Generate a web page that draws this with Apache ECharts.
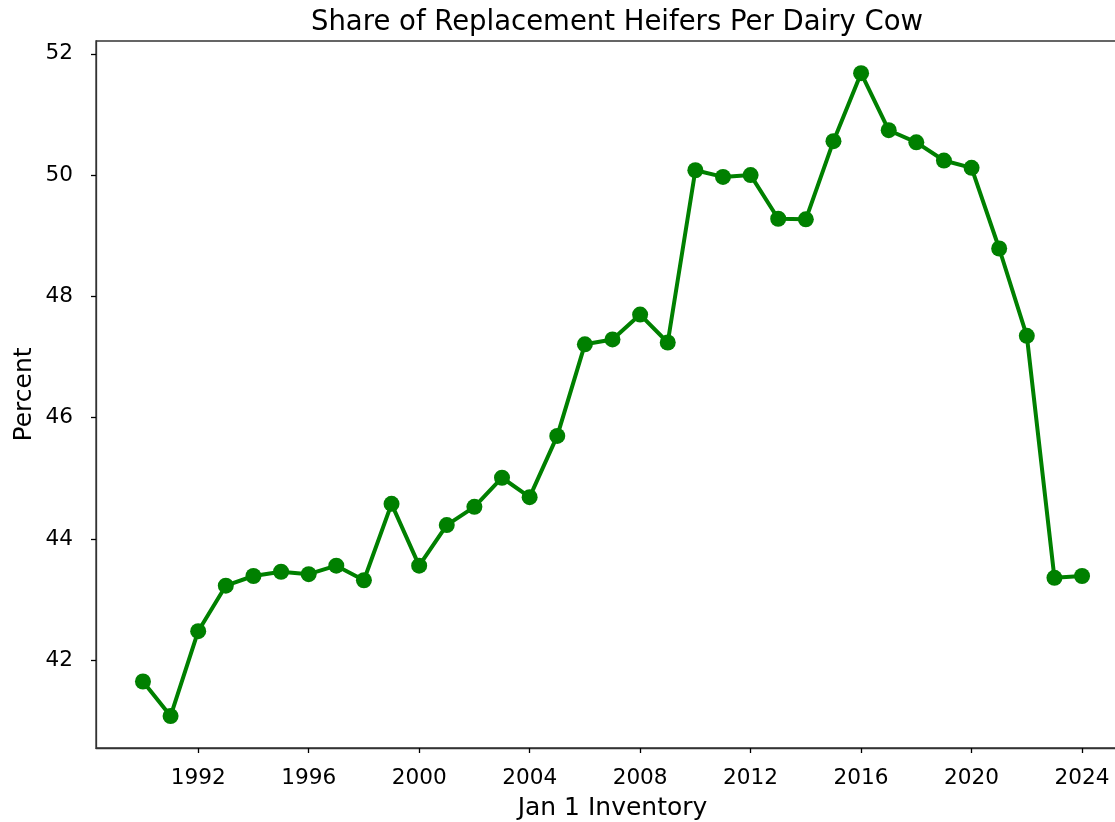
<!DOCTYPE html>
<html>
<head>
<meta charset="utf-8">
<script src="https://cdn.jsdelivr.net/npm/echarts@6/dist/echarts.min.js"></script>
<style>
  html, body { margin: 0; padding: 0; background: #fff; }
  #chart { width: 1115px; height: 822px; }
</style>
</head>
<body>
<div id="chart"></div>
<script>
// Jan 1 inventory years and heifer share (percent)
var years = [1990, 1991, 1992, 1993, 1994, 1995, 1996, 1997, 1998, 1999,
  2000, 2001, 2002, 2003, 2004, 2005, 2006, 2007, 2008, 2009,
  2010, 2011, 2012, 2013, 2014, 2015, 2016, 2017, 2018, 2019,
  2020, 2021, 2022, 2023, 2024];
var share = [41.65, 41.08, 42.48, 43.23, 43.39, 43.46, 43.42, 43.56, 43.32, 44.58,
  43.56, 44.23, 44.53, 45.01, 44.69, 45.70, 47.21, 47.29, 47.70, 47.24,
  50.08, 49.97, 50.00, 49.28, 49.27, 50.56, 51.68, 50.74, 50.54, 50.24,
  50.12, 48.79, 47.35, 43.36, 43.39];
var xTicks = [1992, 1996, 2000, 2004, 2008, 2012, 2016, 2020, 2024];
var yTicks = [42, 44, 46, 48, 50, 52];

var font = 'DejaVu Sans';
var points = years.map(function(y, i) { return [y, share[i]]; });

var myChart = echarts.init(document.getElementById('chart'));
var option = {
  animation: false,
  title: {
    text: 'Share of Replacement Heifers Per Dairy Cow',
    left: 612,
    top: 4,
    textAlign: 'center',
    textStyle: { fontFamily: font, fontSize: 27.5, fontWeight: 'normal', color: '#000' }
  },
  grid: {
    left: 96, top: 41, width: 1033, height: 707,
    outerBoundsMode: 'none',
    containLabel: false,
    show: true, borderColor: '#333', borderWidth: 1.3, backgroundColor: '#fff'
  },
  xAxis: {
    type: 'value',
    min: 1988.3,
    max: 2025.7,
    name: 'Jan 1 Inventory',
    nameLocation: 'middle',
    nameGap: 48,
    nameMoveOverlap: false,
    nameTextStyle: { fontFamily: font, fontSize: 25, color: '#000' },
    splitLine: { show: false },
    axisLine: { lineStyle: { color: '#333', width: 1.3 } },
    axisTick: { customValues: xTicks, length: 5, lineStyle: { color: '#000', width: 1.3 } },
    axisLabel: {
      customValues: xTicks, margin: 19, fontFamily: font, fontSize: 21.6, color: '#000',
      formatter: function(v) { return String(v); }
    }
  },
  yAxis: {
    type: 'value',
    min: 40.554,
    max: 52.211,
    name: 'Percent',
    nameLocation: 'middle',
    nameRotate: 90,
    nameGap: 59,
    nameMoveOverlap: false,
    nameTextStyle: { fontFamily: font, fontSize: 25, color: '#000' },
    splitLine: { show: false },
    axisLine: { show: true, lineStyle: { color: '#333', width: 1.3 } },
    axisTick: { show: true, customValues: yTicks, length: 5, lineStyle: { color: '#000', width: 1.3 } },
    axisLabel: { customValues: yTicks, margin: 23, fontFamily: font, fontSize: 21.6, color: '#000' }
  },
  series: [{
    type: 'line',
    data: points,
    symbol: 'circle',
    symbolSize: 16,
    itemStyle: { color: '#008000' },
    lineStyle: { color: '#008000', width: 4 },
    clip: false
  }]
};
myChart.setOption(option);
</script>
</body>
</html>
